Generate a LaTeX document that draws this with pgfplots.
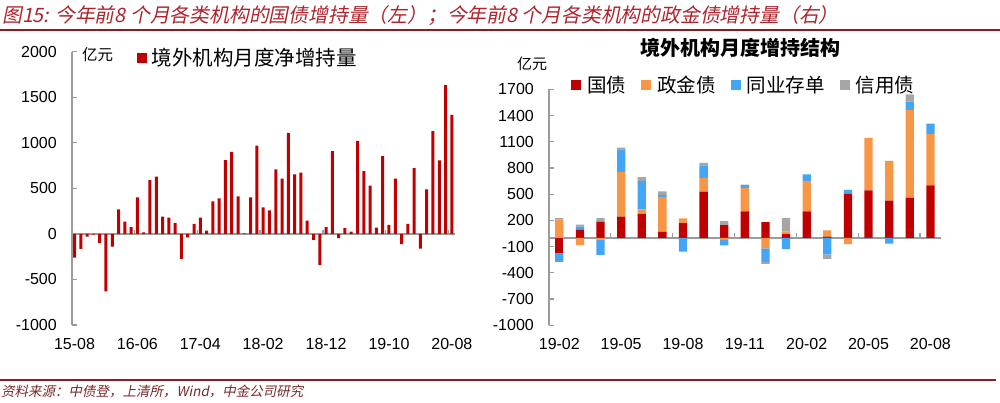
\documentclass[border=0pt]{standalone}
\usepackage{fontspec}
\setmainfont{Liberation Sans}
\newfontfamily\cjk{Noto Sans CJK SC}
\newfontfamily\cjksl{Noto Sans CJK SC}[FakeSlant=0.2]
\usepackage{pgfplots}
\usepackage{pgfplotstable}
\pgfplotsset{compat=1.18}

\definecolor{gzred}{RGB}{192,0,0}
\definecolor{zjorange}{RGB}{247,150,70}
\definecolor{cdblue}{RGB}{66,165,245}
\definecolor{xygray}{RGB}{166,166,166}
\definecolor{axgray}{RGB}{155,155,155}
\definecolor{titlered}{RGB}{175,35,45}
\definecolor{rulered}{RGB}{140,30,35}
\definecolor{footred}{RGB}{120,40,40}

% monthly net increase, 15-08 .. 20-08
\pgfplotstableread{
x y
1 -260
2 -165
3 -30
4 -8
5 -100
6 -630
7 -140
8 270
9 135
10 73
11 400
12 18
13 590
14 630
15 190
16 179
17 117
18 -274
19 -37
20 110
21 179
22 37
23 358
24 390
25 810
26 900
27 412
28 5
29 401
30 970
31 292
32 258
33 708
34 606
35 1110
36 653
37 672
38 146
39 -66
40 -343
41 73
42 909
43 -47
44 62
45 26
46 1022
47 690
48 529
49 69
50 854
51 99
52 606
53 -113
54 110
55 723
56 -161
57 489
58 1128
59 807
60 1632
61 1307
}\monthly

% structure 19-02 .. 20-08, split into positive (p) and negative (n) parts
\pgfplotstableread{
x gp gn zp zn tp tn cp cn
1 0 -170 208 0 0 -105 17 0
2 92 0 0 -84 38 0 23 0
3 183 0 0 -20 0 -175 42 0
4 242 0 513 0 258 0 20 0
5 274 0 52 0 324 0 44 0
6 68 0 400 0 25 0 38 0
7 168 0 55 0 0 -158 0 0
8 528 0 158 0 145 0 27 0
9 146 0 0 -25 0 -62 45 0
10 303 0 270 0 30 0 5 0
11 180 0 0 -120 0 -158 0 -19
12 43 0 32 0 0 -128 155 0
13 303 0 342 0 82 0 0 0
14 15 0 72 0 0 -190 0 -50
15 506 0 0 -72 44 0 0 0
16 545 0 600 0 0 -5 0 0
17 425 0 443 0 0 -67 13 0
18 460 0 1002 0 97 0 84 0
19 600 0 586 0 120 0 0 0
}\structure

\pgfplotsset{
  sqlegend/.style={legend image code/.code={\fill[##1] (0pt,-5pt) rectangle (10pt,5pt);}},
  base/.style={
    scale only axis,
    axis lines*=left,
    x axis line style={draw=none},
    y axis line style={draw=axgray, line width=1.5pt},
    tick align=inside,
    ytick pos=left,
    major tick length=5pt,
    ytick style={draw=axgray, line width=1.2pt},
    xtick style={draw=none},
    /pgf/number format/assume math mode=true,
    /pgf/number format/1000 sep={},
    tick label style={font=\fontsize{16}{16}\selectfont, text=black},
    yticklabel style={inner sep=0pt, anchor=east, xshift=-15pt},
    xticklabel style={inner sep=0pt, anchor=north, yshift=-13pt},
    extra y ticks={0},
    extra y tick labels={},
    extra y tick style={grid=major, major grid style={draw=axgray, line width=1.5pt}},
    clip=false,
  },
}

\begin{document}
\begin{tikzpicture}[x=1pt,y=1pt]
\path[use as bounding box] (0,0) rectangle (1000,403);

% title and rules
\node[anchor=west, inner sep=0pt, text=titlered, font=\cjksl\fontsize{19.8}{19.8}\selectfont]
  at (2,387) {图15: 今年前8 个月各类机构的国债增持量（左）；今年前8 个月各类机构的政金债增持量（右）};
\draw[rulered, line width=2pt] (0,372.5) -- (1000,372.5);
\draw[rulered, line width=1.5pt] (0,23) -- (996,23);
\node[anchor=west, inner sep=0pt, text=footred, font=\cjksl\fontsize{13.5}{13.5}\selectfont]
  at (1,11.5) {资料来源：中债登，上清所，Wind，中金公司研究};

% left chart
\begin{axis}[base,
  at={(72pt,78pt)}, anchor=south west,
  width=383pt, height=273.3pt,
  xmin=0.6, xmax=61.5, ymin=-1000, ymax=2000,
  ytick={-1000,-500,...,2000},
  xtick={1,11,...,61},
  xticklabels={15-08,16-06,17-04,18-02,18-12,19-10,20-08},
  legend style={draw=none, fill=none, inner sep=0pt, outer sep=0pt,
    at={(0.1697,0.977)}, anchor=west,
    nodes={inner sep=0pt},
    font=\cjk\fontsize{20.5}{20.5}\selectfont,
    /tikz/every odd column/.append style={column sep=5pt}},
]
\addplot[ybar, bar width=3pt, fill=gzred, draw=none, sqlegend] table[x=x, y=y] {\monthly};
\addlegendentry{境外机构月度净增持量}
\pgfplotsinvokeforeach{10.5,20.5,30.5,40.5,50.5,60.5}{
  \draw[axgray, line width=1.2pt] (axis cs:#1,0) -- ++(0pt,4pt);
}
\end{axis}
\node[anchor=west, inner sep=0pt, font=\cjk\fontsize{15.5}{15.5}\selectfont] at (82,348.5) {亿元};

% right chart: positive parts
\begin{axis}[base,
  at={(549pt,77.7pt)}, anchor=south west,
  width=391.7pt, height=236pt,
  xmin=0.5, xmax=19.5, ymin=-1000, ymax=1700,
  ytick={-1000,-700,...,1700},
  xtick={1,4,...,19},
  xticklabels={19-02,19-05,19-08,19-11,20-02,20-05,20-08},
  ybar stacked, bar width=8.3pt,
  legend columns=4,
  legend style={draw=none, fill=none, inner sep=0pt, outer sep=0pt,
    at={(0.0562,1.0200)}, anchor=west,
    nodes={inner sep=0pt},
    font=\cjk\fontsize{19.5}{19.5}\selectfont,
    /tikz/every odd column/.append style={column sep=6pt},
    /tikz/every even column/.append style={column sep=15pt}},
]
\addplot[fill=gzred, draw=none, sqlegend] table[x=x, y=gp] {\structure};
\addlegendentry{国债}
\addplot[fill=zjorange, draw=none, sqlegend] table[x=x, y=zp] {\structure};
\addlegendentry{政金债}
\addplot[fill=cdblue, draw=none, sqlegend] table[x=x, y=tp] {\structure};
\addlegendentry{同业存单}
\addplot[fill=xygray, draw=none, sqlegend] table[x=x, y=cp] {\structure};
\addlegendentry{信用债}
\pgfplotsinvokeforeach{3.5,6.5,9.5,12.5,15.5,18.5}{
  \draw[axgray, line width=1.2pt] (axis cs:#1,0) -- ++(0pt,5pt);
}
\end{axis}

% right chart: negative parts, stacked downward from zero
\begin{axis}[scale only axis, hide axis,
  at={(549pt,77.7pt)}, anchor=south west,
  width=391.7pt, height=236pt,
  xmin=0.5, xmax=19.5, ymin=-1000, ymax=1700,
  ybar stacked, bar width=8.3pt,
]
\addplot[fill=gzred, draw=none] table[x=x, y=gn] {\structure};
\addplot[fill=zjorange, draw=none] table[x=x, y=zn] {\structure};
\addplot[fill=cdblue, draw=none] table[x=x, y=tn] {\structure};
\addplot[fill=xygray, draw=none] table[x=x, y=cn] {\structure};
\end{axis}

\node[font=\cjk\bfseries\fontsize{20}{20}\selectfont] at (740,355) {境外机构月度增持结构};
\node[anchor=west, inner sep=0pt, font=\cjk\fontsize{15}{15}\selectfont] at (517,339) {亿元};
\end{tikzpicture}
\end{document}
